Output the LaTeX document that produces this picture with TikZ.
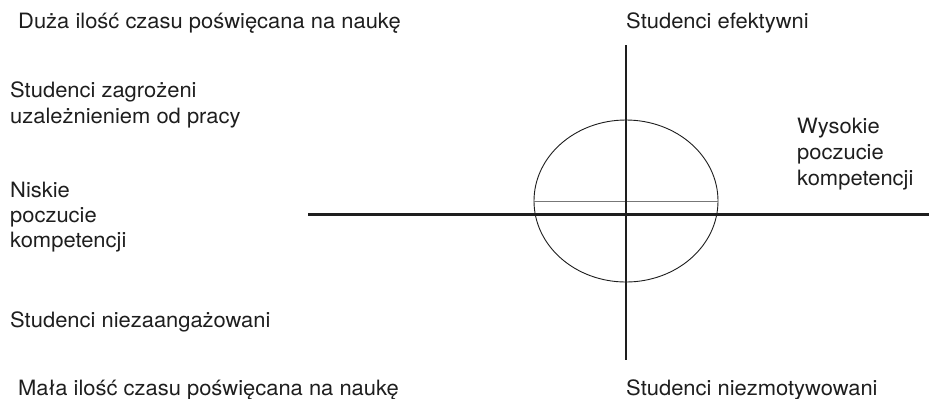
\documentclass[tikz,border=0pt]{standalone}
\usepackage{fontspec}
\setmainfont{TeX Gyre Heros}[FakeStretch=1.04]
\usetikzlibrary{shapes.geometric}
\definecolor{inkc}{HTML}{1E1E1E}
\definecolor{thinc}{HTML}{777777}
\tikzset{
  lbl/.style={anchor=base west, inner sep=0pt, text=inkc, font=\fontsize{21.1bp}{25bp}\selectfont},
  axis/.style={draw=inkc, line width=2.2bp},
  oval/.style={draw=inkc, line width=0.9bp, ellipse, minimum width=184bp, minimum height=162bp, inner sep=0pt},
  diam/.style={draw=thinc, line width=1bp}
}
\begin{document}
\begin{tikzpicture}[x=1bp, y=-1bp]
\useasboundingbox (0,0) rectangle (929,398);
% axes
\coordinate (vtop) at (625.7,45);
\coordinate (vbot) at (625.7,360);
\coordinate (hl) at (308,214.5);
\coordinate (hr) at (929,214.5);
\node[oval] (ov) at (626,201) {};
\draw[diam] (ov.west) -- (ov.east);
\draw[axis] (vtop) -- (vbot);
\draw[axis] (hl) -- (hr);
% labels
\node[lbl] (hi) at (18,28) {Duża ilość czasu poświęcana na naukę};
\node[lbl] (eff) at (626,28) {Studenci efektywni};
\node[lbl] (zag1) at (10,97) {Studenci zagrożeni};
\node[lbl] (zag2) at (10,123) {uzależnieniem od pracy};
\node[lbl] (wys1) at (797,133) {Wysokie};
\node[lbl] (wys2) at (797,159) {poczucie};
\node[lbl] (wys3) at (797,185) {kompetencji};
\node[lbl] (nis1) at (10,197) {Niskie};
\node[lbl] (nis2) at (10,222) {poczucie};
\node[lbl] (nis3) at (10,247) {kompetencji};
\node[lbl] (nza) at (10,327) {Studenci niezaangażowani};
\node[lbl] (lo) at (18,395) {Mała ilość czasu poświęcana na naukę};
\node[lbl] (nzm) at (626,395) {Studenci niezmotywowani};
\end{tikzpicture}
\end{document}
